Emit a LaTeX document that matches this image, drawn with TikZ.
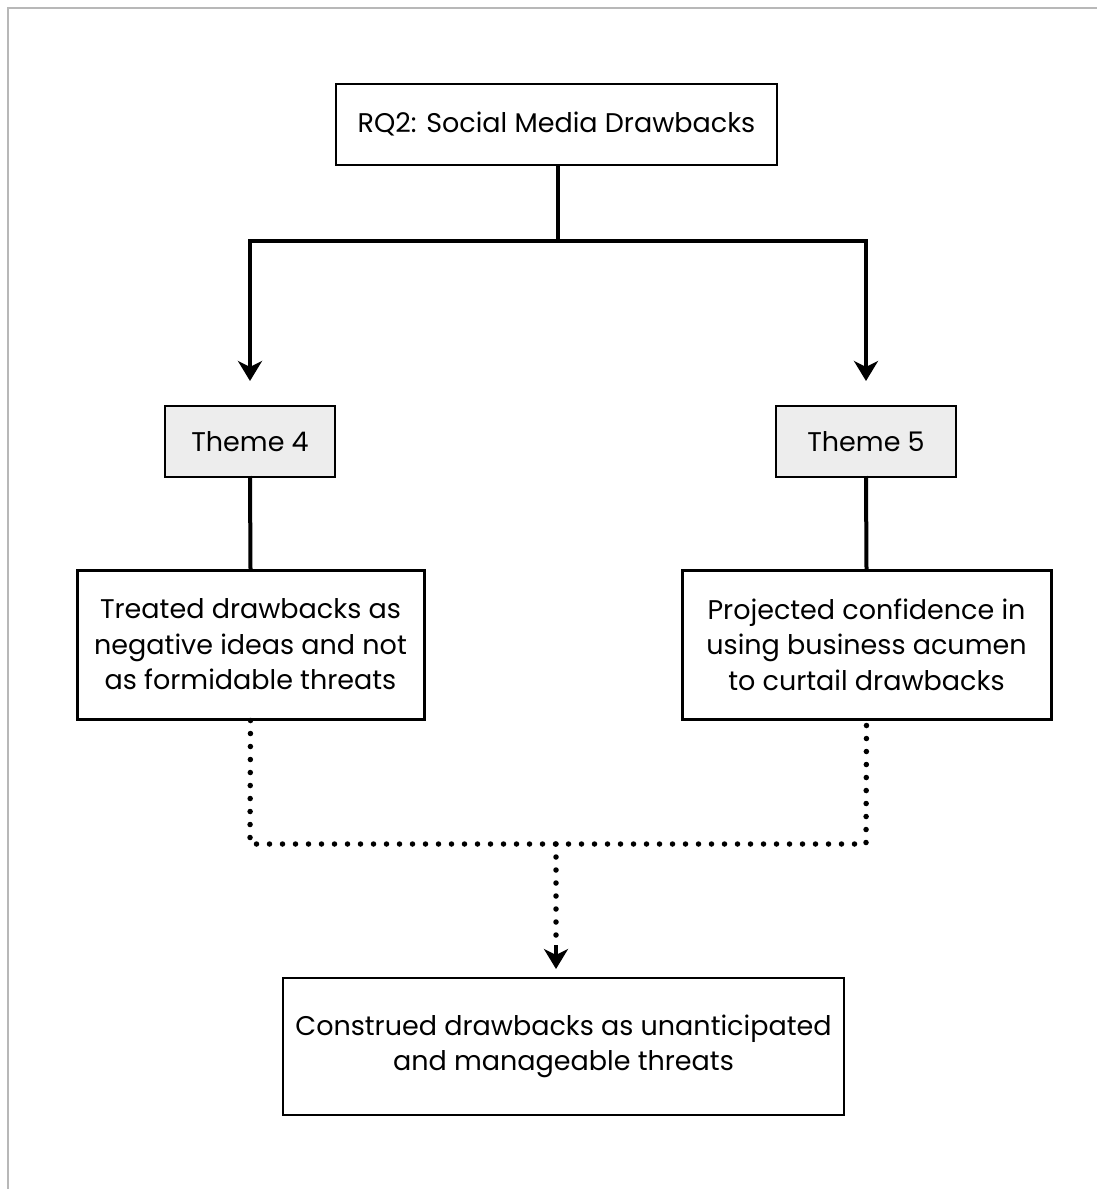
\documentclass[tikz,border=0pt]{standalone}
\usepackage{fontspec}
\setmainfont{Poppins}
\usetikzlibrary{arrows.meta,positioning}
\tikzset{
  box/.style={draw=black, line width=2pt, fill=white, align=center, inner sep=0pt, font=\fontsize{27}{35.5}\selectfont},
  themebox/.style={box, fill=black!7},
  link/.style={line width=4pt, line cap=rect},
  dotlink/.style={line width=5.5pt, line cap=round, dash pattern=on 0pt off 13pt},
  tip/.style={-{Stealth[length=20pt,width=24pt,inset=6pt]}}
}
\begin{document}
\begin{tikzpicture}[x=1pt,y=-1pt]
  \useasboundingbox (0,0) rectangle (1096,1189);
  % page frame
  \draw[black!28, line width=2pt] (8,1200) -- (8,8) -- (1110,8);

  \node[box, minimum width=441pt, minimum height=81pt] (top) at (556.5,124.5) {RQ2: Social Media Drawbacks};
  \node[themebox, minimum width=170pt, minimum height=71pt] (th4) at (250,441.5) {Theme 4};
  \node[themebox, minimum width=180pt, minimum height=71pt] (th5) at (866,441.5) {Theme 5};
  \node[box, line width=3pt, minimum width=347pt, minimum height=149pt] (l4) at (250.5,644.5)
    {Treated drawbacks as\\negative ideas and not\\as formidable threats};
  \node[box, line width=3pt, minimum width=369pt, minimum height=149pt] (r5) at (866.5,644.5)
    {Projected confidence in\\using business acumen\\to curtail drawbacks};
  \node[box, minimum width=561pt, minimum height=137pt] (bot) at (563.5,1046.5)
    {Construed drawbacks as unanticipated\\and manageable threats};

  \coordinate (split) at (558,241);
  \coordinate (sl) at (250,241);
  \coordinate (sr) at (866,241);
  \coordinate (jl) at (250,844);
  \coordinate (jr) at (866,844);
  \coordinate (jm) at (556,844);

  % top box splits into the two themes
  \draw[link] (top.south -| split) -- (split);
  \draw[link] (sl) -- (sr);
  \draw[link, tip] (sl) -- ([yshift=24pt]th4.north);
  \draw[link, tip] (sr) -- ([yshift=24pt]th5.north);

  % themes to their findings
  \draw[link] (th4.south) -- (l4.north);
  \draw[link] (th5.south) -- (r5.north);

  % findings merge into the conclusion
  \draw[dotlink] (l4.south) -- (jl) -- (jr) -- (r5.south);
  \draw[dotlink] (jm) -- (556,945);
  \draw[line width=4pt, tip] (556,945) -- ([yshift=8pt]bot.north -| jm);
\end{tikzpicture}
\end{document}
